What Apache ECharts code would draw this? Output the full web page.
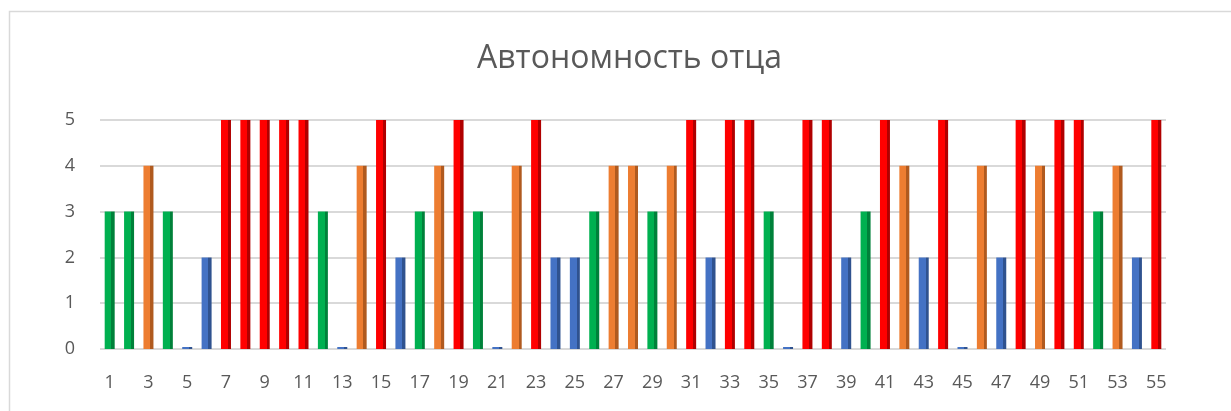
<!DOCTYPE html>
<html>
<head>
<meta charset="utf-8">
<script src="https://cdn.jsdelivr.net/npm/echarts@6/dist/echarts.min.js"></script>
<style>html,body{margin:0;padding:0;background:#fff;}#c{width:1231px;height:411px;}</style>
</head>
<body>
<div id="c"></div>
<script>
const title = 'Автономность отца';
const categories = ['1','2','3','4','5','6','7','8','9','10','11','12','13','14','15','16','17','18','19','20','21','22','23','24','25','26','27','28','29','30','31','32','33','34','35','36','37','38','39','40','41','42','43','44','45','46','47','48','49','50','51','52','53','54','55'];
const values = [3,3,4,3,0,2,5,5,5,5,5,3,0,4,5,2,3,4,5,3,0,4,5,2,2,3,4,4,3,4,5,2,5,5,3,0,5,5,2,3,5,4,2,5,0,4,2,5,4,5,5,3,4,2,5];
const yTicks = [0,1,2,3,4,5];
const palette = {0:['#4472C4','#2F528F'],1:['#4472C4','#2F528F'],2:['#4472C4','#2F528F'],3:['#00B050','#00813A'],4:['#ED7D31','#B05A1F'],5:['#FF0000','#B00000']};

function grad(v){
  const p = palette[v];
  return {type:'linear',x:0,y:0,x2:1,y2:0,colorStops:[
    {offset:0,color:p[0]},{offset:0.68,color:p[0]},{offset:0.68,color:p[1]},{offset:1,color:p[1]}]};
}

const chart = echarts.init(document.getElementById('c'));
chart.setOption({
  backgroundColor:'#fff',
  animation:false,
  title:{text:title,left:472,top:38,textStyle:{fontFamily:'Open Sans',fontWeight:'normal',fontSize:32,color:'#595959'}},
  graphic:[{type:'rect',shape:{x:9.5,y:11.5,width:1240,height:420},style:{fill:'none',stroke:'#d9d9d9',lineWidth:1.5},silent:true}],
  grid:{left:100,right:65,top:120,bottom:62,containLabel:false},
  xAxis:{type:'category',data:categories,axisLine:{show:false},axisTick:{show:false},
    axisLabel:{interval:1,color:'#595959',fontSize:18,fontFamily:'Open Sans',margin:25}},
  yAxis:{type:'value',min:0,max:5,interval:1,
    axisLabel:{color:'#595959',fontSize:18,fontFamily:'Open Sans',margin:25,formatter:v=>yTicks.includes(v)?String(v):''},
    splitLine:{lineStyle:{color:'#d9d9d9',width:2}},axisLine:{show:false},axisTick:{show:false}},
  series:[{type:'bar',barWidth:10,barMinHeight:2,
    data:values.map(v=>({value:v,itemStyle:{color:grad(v)}}))}]
});
</script>
</body>
</html>
